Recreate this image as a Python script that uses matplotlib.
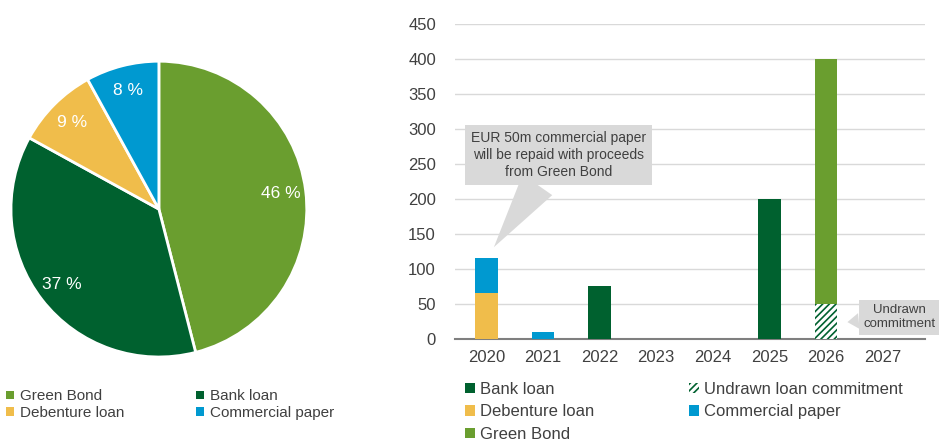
import matplotlib
matplotlib.use("Agg")
import matplotlib.pyplot as plt
import numpy as np
from matplotlib.patches import Patch

plt.rcParams["font.family"] = ["Liberation Sans", "DejaVu Sans"]
plt.rcParams["hatch.linewidth"] = 1.2

GREEN = "#6a9e2f"
DARK_GREEN = "#00612f"
YELLOW = "#f0bd4b"
BLUE = "#0099d0"
TEXT = "#404040"

# funding mix (%)
mix_labels = ["Green Bond", "Bank loan", "Debenture loan", "Commercial paper"]
mix_share = [46, 37, 9, 8]
mix_colors = [GREEN, DARK_GREEN, YELLOW, BLUE]

# maturity profile (EURm)
years = ["2020", "2021", "2022", "2023", "2024", "2025", "2026", "2027"]
bank_loan = [0, 0, 75, 0, 0, 200, 0, 0]
debenture = [65, 0, 0, 0, 0, 0, 0, 0]
commercial_paper = [50, 10, 0, 0, 0, 0, 0, 0]
undrawn = [0, 0, 0, 0, 0, 0, 50, 0]
green_bond = [0, 0, 0, 0, 0, 0, 350, 0]

fig = plt.figure(figsize=(9.39, 4.43), dpi=100)

# ---- pie ----
ax_pie = fig.add_axes([0.0117, 0.194, 0.315, 0.668])
wedges, _, autotexts = ax_pie.pie(
    mix_share,
    colors=mix_colors,
    startangle=90,
    counterclock=False,
    autopct=lambda p: f"{p:.0f} %",
    pctdistance=0.83,
    wedgeprops=dict(edgecolor="white", linewidth=2),
)
for t in autotexts:
    t.set_color("white")
    t.set_fontsize(12.5)
ax_pie.set_xlim(-1.0, 1.0)
ax_pie.set_ylim(-1.0, 1.0)
ax_pie.set_aspect("equal")

pie_handles = [Patch(facecolor=c, label=l) for c, l in zip(mix_colors, mix_labels)]
order = [0, 2, 1, 3]
fig.legend(
    [pie_handles[i] for i in order],
    [mix_labels[i] for i in order],
    loc="upper left",
    bbox_to_anchor=(0.0, 0.135),
    ncol=2,
    frameon=False,
    fontsize=11,
    handlelength=0.5,
    handleheight=0.5,
    handletextpad=0.4,
    columnspacing=4.7,
    labelspacing=0.15,
    labelcolor=TEXT,
    borderaxespad=0,
)

# ---- maturity bars ----
ax = fig.add_axes([0.485, 0.235, 0.5, 0.711])
x = np.arange(len(years))
w = 0.4
ax.bar(x, bank_loan, w, color=DARK_GREEN, zorder=3)
ax.bar(x, debenture, w, color=YELLOW, zorder=3)
ax.bar(x, commercial_paper, w, bottom=debenture, color=BLUE, zorder=3)
ax.bar(x, undrawn, w, color="white", edgecolor=DARK_GREEN, hatch="/////",
       linewidth=0, zorder=3)
ax.bar(x, green_bond, w, bottom=undrawn, color=GREEN, zorder=3)

ax.set_xlim(-0.55, 7.75)
ax.set_ylim(0, 450)
ax.set_yticks(range(0, 451, 50))
ax.set_xticks(x)
ax.set_xticklabels(years)
ax.grid(axis="y", color="#d9d9d9", linewidth=1, zorder=0)
for side in ["top", "right", "left"]:
    ax.spines[side].set_visible(False)
ax.spines["bottom"].set_color("#7f7f7f")
ax.spines["bottom"].set_linewidth(1.5)
ax.tick_params(length=0, labelsize=12, labelcolor=TEXT, pad=8)
ax.tick_params(axis="y", pad=14)

callout = dict(boxstyle="square,pad=0.45", fc="#d9d9d9", ec="none")
ax.annotate(
    "EUR 50m commercial paper\nwill be repaid with proceeds\nfrom Green Bond",
    xy=(0.13, 131), xytext=(1.27, 263),
    ha="center", va="center", fontsize=10, color=TEXT, linespacing=1.25,
    bbox=callout,
    arrowprops=dict(arrowstyle="wedge,tail_width=2.6,shrink_factor=0.5",
                    fc="#d9d9d9", ec="none", shrinkA=0, shrinkB=0),
    zorder=5,
)
ax.annotate(
    "Undrawn\ncommitment",
    xy=(6.38, 24), xytext=(7.3, 31),
    ha="center", va="center", fontsize=9.5, color=TEXT, linespacing=1.2,
    bbox=dict(boxstyle="square,pad=0.35", fc="#d9d9d9", ec="none"),
    arrowprops=dict(arrowstyle="wedge,tail_width=1.2,shrink_factor=0.5",
                    fc="#d9d9d9", ec="none", shrinkA=0, shrinkB=0),
    annotation_clip=False,
    zorder=5,
)

bar_handles = [
    Patch(facecolor=DARK_GREEN, label="Bank loan"),
    Patch(facecolor=YELLOW, label="Debenture loan"),
    Patch(facecolor=GREEN, label="Green Bond"),
    Patch(facecolor="white", edgecolor=DARK_GREEN, hatch="/////", linewidth=0,
          label="Undrawn loan commitment"),
    Patch(facecolor=BLUE, label="Commercial paper"),
]
fig.legend(
    handles=bar_handles,
    loc="upper left",
    bbox_to_anchor=(0.488, 0.153),
    ncol=2,
    frameon=False,
    fontsize=12,
    handlelength=0.6,
    handleheight=0.6,
    handletextpad=0.3,
    columnspacing=5.7,
    labelspacing=0.45,
    labelcolor=TEXT,
    borderaxespad=0,
)

fig.savefig("out.png", dpi=100)
